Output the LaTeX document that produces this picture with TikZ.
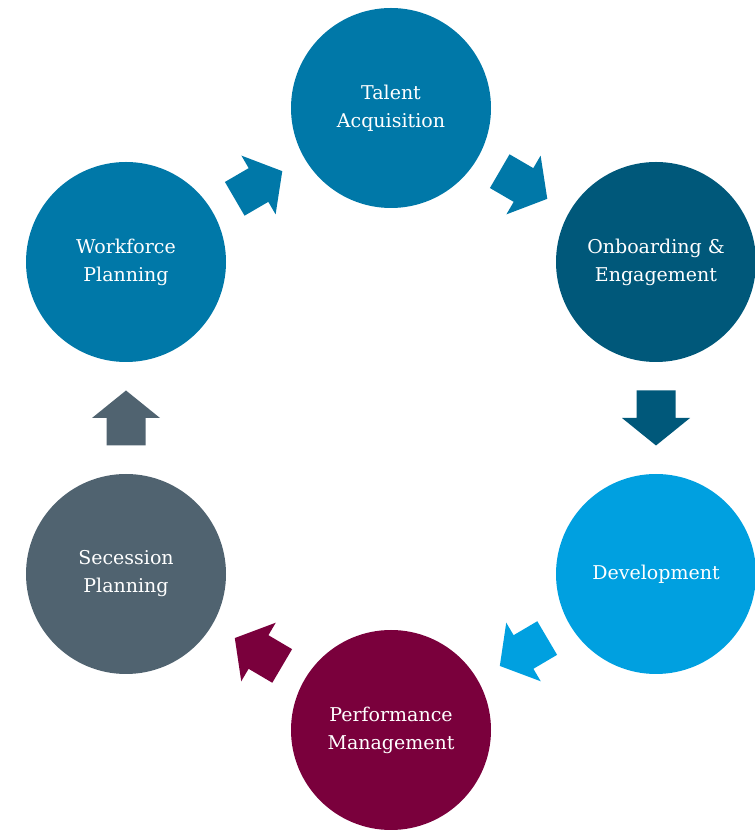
\documentclass[tikz,border=0pt]{standalone}
\usepackage{fontspec}
\setmainfont{DejaVu Serif}
\usetikzlibrary{calc}
\definecolor{cTA}{RGB}{0,120,168}
\definecolor{cOE}{RGB}{0,88,122}
\definecolor{cDV}{RGB}{0,160,224}
\definecolor{cPM}{RGB}{122,0,60}
\definecolor{cSP}{RGB}{80,99,112}
\definecolor{cWP}{RGB}{0,120,168}
\tikzset{
  stage/.style={circle, minimum size=200pt, inner sep=0pt, text=white,
    font=\fontsize{19}{28}\selectfont, align=center},
  blockarr/.pic={\path[pic actions] (-27.5,-19.5) -- (0,-19.5) -- (0,-34) -- (27.5,0) -- (0,34) -- (0,19.5) -- (-27.5,19.5) -- cycle;}
}
\begin{document}
\begin{tikzpicture}[x=1pt,y=1pt]
\useasboundingbox (0,0) rectangle (755,830);
\node[stage, fill=cTA] (ta) at (391,722) {Talent\\Acquisition};
\node[stage, fill=cOE] (oe) at (656,568) {Onboarding \&\\Engagement};
\node[stage, fill=cDV] (dv) at (656,256) {Development};
\node[stage, fill=cPM] (pm) at (391,100) {Performance\\Management};
\node[stage, fill=cSP] (sp) at (126,256) {Secession\\Planning};
\node[stage, fill=cWP] (wp) at (126,568) {Workforce\\Planning};
\pic[fill=cWP, rotate=30.2] at ($(wp)!0.5!(ta)$) {blockarr};
\pic[fill=cTA, rotate=-30.2] at ($(ta)!0.5!(oe)$) {blockarr};
\pic[fill=cOE, rotate=-90] at ($(oe)!0.5!(dv)$) {blockarr};
\pic[fill=cDV, rotate=210.5] at ($(dv)!0.5!(pm)$) {blockarr};
\pic[fill=cPM, rotate=149.5] at ($(pm)!0.5!(sp)$) {blockarr};
\pic[fill=cSP, rotate=90] at ($(sp)!0.5!(wp)$) {blockarr};
\end{tikzpicture}
\end{document}
